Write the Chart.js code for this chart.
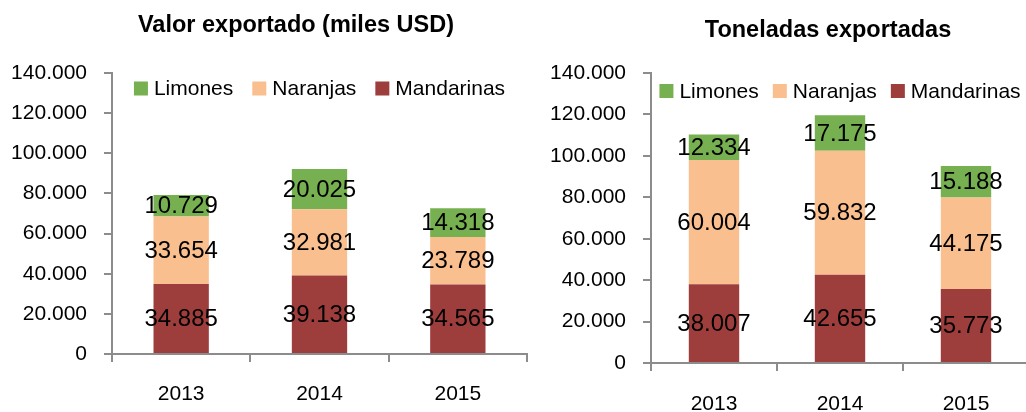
<!DOCTYPE html>
<html>
<head>
<meta charset="utf-8">
<script src="https://cdn.jsdelivr.net/npm/chart.js@4.4.0/dist/chart.umd.min.js"></script>
<style>
    body { margin: 0; width: 1026px; height: 412px; overflow: hidden; background: #fff; position: relative; }
    .chart-box { position: absolute; top: 0; height: 412px; }
</style>
</head>
<body>
<div class="chart-box" style="left:0;width:592px"><canvas id="valor-chart"></canvas></div>
<div class="chart-box" style="left:513px;width:630px"><canvas id="toneladas-chart"></canvas></div>

<script>
const years = ['2013', '2014', '2015'];
const seriesNames = ['Mandarinas', 'Naranjas', 'Limones'];
const seriesColors = ['#9E3E3C', '#F9BF8F', '#77B050'];

// Valor exportado (miles USD)
const valorMandarinas = [34885, 39138, 34565];
const valorNaranjas = [33654, 32981, 23789];
const valorLimones = [10729, 20025, 14318];

// Toneladas exportadas
const tonMandarinas = [38007, 42655, 35773];
const tonNaranjas = [60004, 59832, 44175];
const tonLimones = [12334, 17175, 15188];

const yTicks = [0, 20000, 40000, 60000, 80000, 100000, 120000, 140000];

const FONT = "'Liberation Sans', Arial, sans-serif";
const AXIS_GREY = '#8C8C8C';

const fmt = n => String(n).replace(/\B(?=(\d{3})+(?!\d))/g, '.');

// draws the value in the middle of every bar segment
const segmentLabels = {
    id: 'segmentLabels',
    afterDatasetsDraw(chart) {
        const ctx = chart.ctx;
        ctx.save();
        ctx.font = `24px ${FONT}`;
        ctx.fillStyle = '#000';
        ctx.textAlign = 'center';
        ctx.textBaseline = 'middle';
        chart.data.datasets.forEach((ds, i) => {
            chart.getDatasetMeta(i).data.forEach((bar, j) => {
                const p = bar.getCenterPoint();
                ctx.fillText(fmt(ds.data[j]), p.x, p.y + 1);
            });
        });
        ctx.restore();
    }
};

// one-row legend inside the plot area, top item first (Limones)
const innerLegend = {
    id: 'innerLegend',
    afterDraw(chart, args, opts) {
        const ctx = chart.ctx;
        const area = chart.chartArea;
        const box = 14, textGap = 6, itemGap = opts.gap;
        ctx.save();
        ctx.font = `21px ${FONT}`;
        const items = chart.data.datasets.map(ds => ({
            label: ds.label,
            color: ds.backgroundColor,
            w: box + textGap + ctx.measureText(ds.label).width
        })).reverse();
        const total = items.reduce((s, it) => s + it.w, 0) + itemGap * (items.length - 1);
        let x = (area.left + area.right) / 2 - total / 2;
        const y = area.top + opts.offsetY;
        ctx.textBaseline = 'middle';
        ctx.textAlign = 'left';
        items.forEach(it => {
            ctx.fillStyle = it.color;
            ctx.fillRect(x, y - box / 2, box, box);
            ctx.fillStyle = '#000';
            ctx.fillText(it.label, x + box + textGap, y + 1);
            x += it.w + itemGap;
        });
        ctx.restore();
    }
};

// centre the title over the whole canvas, not only inside the layout padding
const wideTitle = {
    id: 'wideTitle',
    afterLayout(chart) {
        if (chart.titleBlock) {
            chart.titleBlock.left = 0;
            chart.titleBlock.right = chart.width;
        }
    }
};

function makeChart(id, title, series, cfg) {
    const ctx = document.getElementById(id).getContext('2d');
    return new Chart(ctx, {
        type: 'bar',
        data: {
            labels: years,
            datasets: series.map((data, i) => ({
                label: seriesNames[i],
                data: data,
                backgroundColor: seriesColors[i],
                borderWidth: 0,
                barPercentage: 0.4,
                categoryPercentage: 1
            }))
        },
        plugins: [segmentLabels, innerLegend, wideTitle],
        options: {
            responsive: true,
            maintainAspectRatio: false,
            animation: false,
            layout: { padding: { left: 0, right: cfg.padRight, top: 0, bottom: 0 } },
            scales: {
                x: {
                    stacked: true,
                    border: { color: AXIS_GREY, width: 2 },
                    grid: { display: true, drawOnChartArea: false, tickLength: 8, color: AXIS_GREY, lineWidth: 2, offset: true },
                    ticks: { color: '#000', font: { family: FONT, size: 21 }, padding: cfg.xPad },
                    afterFit: s => { s.height = cfg.xHeight; }
                },
                y: {
                    stacked: true,
                    min: 0,
                    max: 140000,
                    afterBuildTicks: s => { s.ticks = yTicks.map(v => ({ value: v })); },
                    border: { color: AXIS_GREY, width: 2 },
                    grid: { drawOnChartArea: false, tickLength: 8, color: AXIS_GREY, lineWidth: 2 },
                    ticks: { color: '#000', font: { family: FONT, size: 21 }, padding: 17, callback: v => fmt(v) },
                    afterFit: s => { s.width = cfg.yWidth; }
                }
            },
            plugins: {
                title: {
                    display: true,
                    text: title,
                    color: '#000',
                    font: { family: FONT, size: 23.5, weight: 'bold' },
                    padding: { top: cfg.titleTop, bottom: 73 - cfg.titleTop - 28.2 }
                },
                legend: { display: false },
                innerLegend: { offsetY: cfg.legendY, gap: cfg.legendGap },
                tooltip: { enabled: false }
            }
        }
    });
}

makeChart('valor-chart', 'Valor exportado (miles USD)',
    [valorMandarinas, valorNaranjas, valorLimones],
    { padRight: 65, yWidth: 112, xHeight: 58, xPad: 20, titleTop: 11, legendY: 15.5, legendGap: 19 });

makeChart('toneladas-chart', 'Toneladas exportadas',
    [tonMandarinas, tonNaranjas, tonLimones],
    { padRight: 114, yWidth: 138, xHeight: 49, xPad: 21, titleTop: 16, legendY: 18, legendGap: 14 });
</script>
</body>
</html>
